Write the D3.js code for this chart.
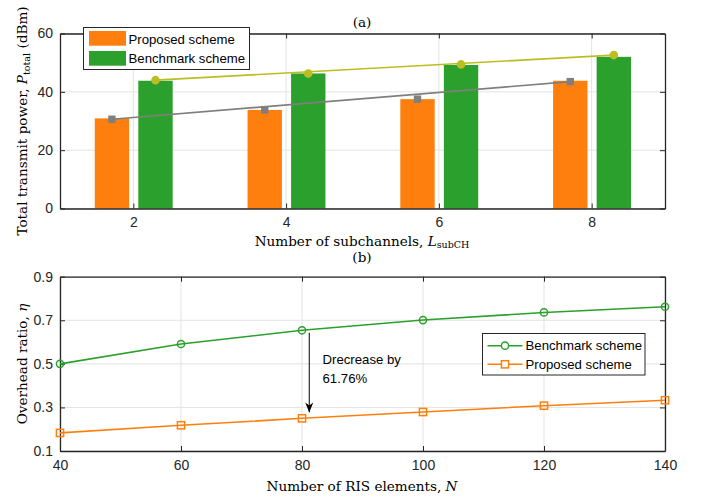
<!DOCTYPE html>
<html><head><meta charset="utf-8">
<script src="https://cdn.jsdelivr.net/npm/d3@7"></script>
<style>body{margin:0;background:#fff}svg{display:block}</style>
</head><body>
<svg id="c" width="701" height="500"></svg>
<script>
// ---- data (a) ----
const subchannels = [2, 4, 6, 8];
const proposedPower = [30.9, 33.8, 37.5, 43.8];
const benchmarkPower = [43.8, 46.3, 49.2, 52.0];
const proposedMarkers = [30.6, 33.8, 37.5, 43.5];
const benchmarkMarkers = [44.0, 46.3, 49.4, 52.6];
const yTicksA = [0, 20, 40, 60];
// ---- data (b) ----
const risElements = [40, 60, 80, 100, 120, 140];
const benchmarkRatio = [0.500, 0.591, 0.654, 0.701, 0.736, 0.762];
const proposedRatio = [0.183, 0.218, 0.250, 0.279, 0.308, 0.333];
const yTicksB = [0.1, 0.3, 0.5, 0.7, 0.9];
const xTicksB = [40, 60, 80, 100, 120, 140];
const annotation = ["Drecrease by", "61.76%"];

const C = {orange:"#ff7f0e", green:"#2ca02c", olive:"#bcbd22", gray:"#7f7f7f", axis:"#262626", grid:"#e3e3e3"};
const SANS = "'Liberation Sans', Arial, sans-serif";
const SERIF = "'DejaVu Serif', 'Liberation Serif', serif";
const svg = d3.select("#c");

function frame(g, x, y, xt, yt) {
  const [x0, x1] = x.range(), [y0, y1] = y.range();
  g.append("g").selectAll("line").data(xt).join("line")
    .attr("x1", d => x(d)).attr("x2", d => x(d)).attr("y1", y0).attr("y2", y1)
    .attr("stroke", C.grid).attr("stroke-width", 1);
  g.append("g").selectAll("line").data(yt).join("line")
    .attr("y1", d => y(d)).attr("y2", d => y(d)).attr("x1", x0).attr("x2", x1)
    .attr("stroke", C.grid).attr("stroke-width", 1);
}
function axes(g, x, y, xt, yt, yfmt) {
  const [x0, x1] = x.range(), [y0, y1] = y.range();
  const ax = g.append("g").attr("transform", `translate(0,${y0})`)
    .call(d3.axisBottom(x).tickValues(xt).tickSizeInner(-5).tickSizeOuter(0).tickPadding(9));
  const axT = g.append("g").attr("transform", `translate(0,${y1})`)
    .call(d3.axisTop(x).tickValues(xt).tickSizeInner(-5).tickSizeOuter(0).tickFormat(""));
  const ay = g.append("g").attr("transform", `translate(${x0},0)`)
    .call(d3.axisLeft(y).tickValues(yt).tickSizeInner(-5).tickSizeOuter(0).tickPadding(7).tickFormat(yfmt));
  const ayR = g.append("g").attr("transform", `translate(${x1},0)`)
    .call(d3.axisRight(y).tickValues(yt).tickSizeInner(-5).tickSizeOuter(0).tickFormat(""));
  [ax, axT, ay, ayR].forEach(a => {
    a.select(".domain").attr("stroke", C.axis).attr("stroke-width", 1.3);
    a.selectAll(".tick line").attr("stroke", C.axis).attr("stroke-width", 1);
    a.selectAll("text").attr("fill", C.axis).attr("font-family", SANS).attr("font-size", 14);
  });
}

// ================= (a) =================
const xa = d3.scaleLinear().domain([1.04, 8.96]).range([60, 665]);
const ya = d3.scaleLinear().domain([0, 60]).range([208.5, 33.5]);
const ga = svg.append("g");
frame(ga, xa, ya, subchannels, yTicksA);
const offP = -0.28, offB = 0.29, bw = 0.45;
ga.append("g").selectAll("rect").data(subchannels).join("rect")
  .attr("x", (d) => xa(d + offP - bw / 2)).attr("width", xa(bw) - xa(0))
  .attr("y", (d, i) => ya(proposedPower[i])).attr("height", (d, i) => ya(0) - ya(proposedPower[i]))
  .attr("fill", C.orange);
ga.append("g").selectAll("rect").data(subchannels).join("rect")
  .attr("x", (d) => xa(d + offB - bw / 2)).attr("width", xa(bw) - xa(0))
  .attr("y", (d, i) => ya(benchmarkPower[i])).attr("height", (d, i) => ya(0) - ya(benchmarkPower[i]))
  .attr("fill", C.green);
axes(ga, xa, ya, subchannels, yTicksA, d3.format("d"));
const n = subchannels.length - 1;
ga.append("line").attr("x1", xa(subchannels[0] + offP)).attr("y1", ya(proposedMarkers[0]))
  .attr("x2", xa(subchannels[n] + offP)).attr("y2", ya(proposedMarkers[n]))
  .attr("stroke", C.gray).attr("stroke-width", 1.6);
ga.append("line").attr("x1", xa(subchannels[0] + offB)).attr("y1", ya(benchmarkMarkers[0]))
  .attr("x2", xa(subchannels[n] + offB)).attr("y2", ya(benchmarkMarkers[n]))
  .attr("stroke", C.olive).attr("stroke-width", 1.6);
ga.append("g").selectAll("rect").data(subchannels).join("rect")
  .attr("x", d => xa(d + offP) - 3.7).attr("y", (d, i) => ya(proposedMarkers[i]) - 3.7)
  .attr("width", 7.4).attr("height", 7.4).attr("fill", C.gray);
ga.append("g").selectAll("circle").data(subchannels).join("circle")
  .attr("cx", d => xa(d + offB)).attr("cy", (d, i) => ya(benchmarkMarkers[i]))
  .attr("r", 4.3).attr("fill", C.olive);
const la = ga.append("g");
la.append("rect").attr("x", 83.5).attr("y", 27.5).attr("width", 166).attr("height", 42)
  .attr("fill", "#fff").attr("stroke", C.axis).attr("stroke-width", 1);
[["Proposed scheme", C.orange], ["Benchmark scheme", C.green]].forEach(([t, c], i) => {
  la.append("rect").attr("x", 89).attr("y", 31 + i * 20).attr("width", 37).attr("height", 14.7).attr("fill", c);
  la.append("text").attr("x", 128.5).attr("y", 43.5 + i * 19.3).text(t)
    .attr("font-family", SANS).attr("font-size", 13.2).attr("fill", "#000");
});
svg.append("text").attr("x", 362).attr("y", 26.5).attr("text-anchor", "middle")
  .attr("font-family", SERIF).attr("font-size", 13.6).text("(a)");
const xla = svg.append("text").attr("x", 362).attr("y", 245.5).attr("text-anchor", "middle")
  .attr("font-family", SERIF).attr("font-size", 13.6);
xla.append("tspan").text("Number of subchannels, ");
xla.append("tspan").attr("font-style", "italic").text("L");
xla.append("tspan").attr("font-size", 9.5).attr("dy", 2.5).text("subCH");
const yla = svg.append("text").attr("transform", "translate(27,121) rotate(-90)").attr("text-anchor", "middle")
  .attr("font-family", SERIF).attr("font-size", 13.6);
yla.append("tspan").text("Total transmit power, ");
yla.append("tspan").attr("font-style", "italic").text("P");
yla.append("tspan").attr("font-size", 9.5).attr("dy", 3).text("total");
yla.append("tspan").attr("dy", -3).text(" (dBm)");

// ================= (b) =================
const xb = d3.scaleLinear().domain([40, 140]).range([60, 665]);
const yb = d3.scaleLinear().domain([0.1, 0.9]).range([451, 276.7]);
const gb = svg.append("g");
frame(gb, xb, yb, xTicksB, yTicksB);
axes(gb, xb, yb, xTicksB, yTicksB, d3.format(".1f"));
const line = d3.line().x((d, i) => xb(risElements[i])).y(d => yb(d));
gb.append("path").datum(benchmarkRatio).attr("d", line).attr("fill", "none").attr("stroke", C.green).attr("stroke-width", 1.6);
gb.append("path").datum(proposedRatio).attr("d", line).attr("fill", "none").attr("stroke", C.orange).attr("stroke-width", 1.6);
gb.append("g").selectAll("circle").data(benchmarkRatio).join("circle")
  .attr("cx", (d, i) => xb(risElements[i])).attr("cy", d => yb(d)).attr("r", 3.6)
  .attr("fill", "none").attr("stroke", C.green).attr("stroke-width", 1.5);
gb.append("g").selectAll("rect").data(proposedRatio).join("rect")
  .attr("x", (d, i) => xb(risElements[i]) - 3.6).attr("y", d => yb(d) - 3.6).attr("width", 7.2).attr("height", 7.2)
  .attr("fill", "none").attr("stroke", C.orange).attr("stroke-width", 1.5);
svg.append("defs").append("marker").attr("id", "ah").attr("viewBox", "0 0 10 10").attr("refX", 10).attr("refY", 5)
  .attr("markerWidth", 10).attr("markerHeight", 10).attr("markerUnits", "userSpaceOnUse").attr("orient", "auto")
  .append("path").attr("d", "M0,1 L10,5 L0,9 L3,5 Z").attr("fill", "#000");
gb.append("line").attr("x1", xb(81.2)).attr("x2", xb(81.2)).attr("y1", yb(0.643)).attr("y2", yb(0.277))
  .attr("stroke", "#000").attr("stroke-width", 1).attr("marker-end", "url(#ah)");
annotation.forEach((t, i) => gb.append("text").attr("x", 322.5).attr("y", 364 + i * 19)
  .attr("font-family", SANS).attr("font-size", 13.2).attr("fill", "#000").text(t));
const lb = gb.append("g");
lb.append("rect").attr("x", 482.5).attr("y", 333.5).attr("width", 162.5).attr("height", 41.5)
  .attr("fill", "#fff").attr("stroke", C.axis).attr("stroke-width", 1);
[["Benchmark scheme", C.green, "c"], ["Proposed scheme", C.orange, "s"]].forEach(([t, c, m], i) => {
  const yy = 345.7 + i * 18.6;
  lb.append("line").attr("x1", 487.5).attr("x2", 522.5).attr("y1", yy).attr("y2", yy).attr("stroke", c).attr("stroke-width", 1.6);
  if (m === "c") lb.append("circle").attr("cx", 505).attr("cy", yy).attr("r", 3.6).attr("fill", "#fff").attr("stroke", c).attr("stroke-width", 1.5);
  else lb.append("rect").attr("x", 501.4).attr("y", yy - 3.6).attr("width", 7.2).attr("height", 7.2).attr("fill", "#fff").attr("stroke", c).attr("stroke-width", 1.5);
  lb.append("text").attr("x", 525.5).attr("y", yy + 4.6).text(t).attr("font-family", SANS).attr("font-size", 13.2).attr("fill", "#000");
});
svg.append("text").attr("x", 362).attr("y", 261.5).attr("text-anchor", "middle")
  .attr("font-family", SERIF).attr("font-size", 13.6).text("(b)");
const xlb = svg.append("text").attr("x", 362).attr("y", 491).attr("text-anchor", "middle")
  .attr("font-family", SERIF).attr("font-size", 13.6);
xlb.append("tspan").text("Number of RIS elements, ");
xlb.append("tspan").attr("font-style", "italic").text("N");
const ylb = svg.append("text").attr("transform", "translate(27,364) rotate(-90)").attr("text-anchor", "middle")
  .attr("font-family", SERIF).attr("font-size", 13.6);
ylb.append("tspan").text("Overhead ratio, ");
ylb.append("tspan").attr("font-style", "italic").text("η");
</script>
</body></html>
